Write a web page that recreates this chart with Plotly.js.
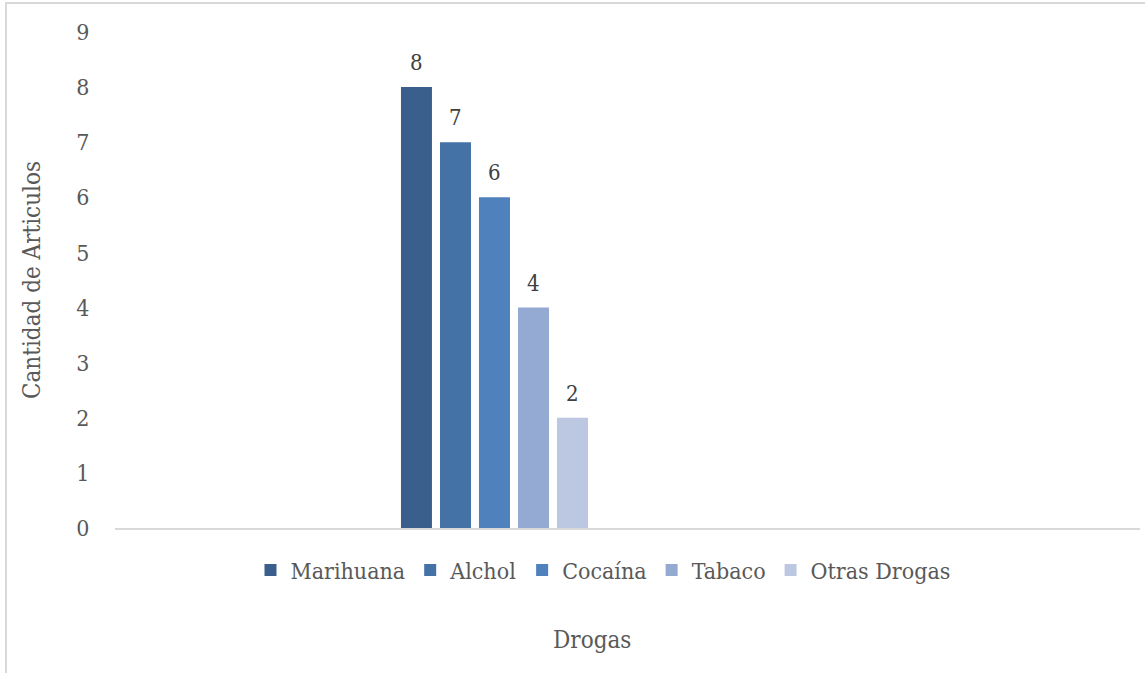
<!DOCTYPE html>
<html>
<head>
<meta charset="utf-8">
<script src="https://cdn.plot.ly/plotly-3.0.1.min.js"></script>
<style>
  html, body { margin: 0; padding: 0; overflow: hidden; background: #fff; }
  #frame { position: absolute; left: 5px; top: 2px; width: 3000px; height: 3000px;
           border: 2px solid #d9d9d9; box-sizing: border-box; }
  #chart { position: absolute; left: 0; top: 0; width: 1145px; height: 673px; }
</style>
</head>
<body>
<div id="frame"></div>
<div id="chart"></div>
<script>
const categories = ['Drogas'];
const seriesNames = ['Marihuana', 'Alchol', 'Cocaína', 'Tabaco', 'Otras Drogas'];
const seriesValues = [8, 7, 6, 4, 2];
const seriesColors = ['#3b5f8d', '#4472a7', '#4f81bd', '#95aad2', '#bcc8e1'];
const yTicks = [0, 1, 2, 3, 4, 5, 6, 7, 8, 9];

const FONT = '"DejaVu Serif Condensed", "Liberation Serif", serif';
const bargap = 0.5;

const traces = seriesNames.map((name, i) => ({
  type: 'bar',
  name: name,
  x: categories,
  y: [seriesValues[i]],
  marker: { color: seriesColors[i] },
  hoverinfo: 'name+y'
}));

const slot = (1 - bargap) / seriesNames.length;
const annotations = seriesNames.map((name, i) => ({
  xref: 'x', yref: 'y',
  x: 0 + (i - (seriesNames.length - 1) / 2) * slot,
  y: seriesValues[i],
  text: String(seriesValues[i]),
  showarrow: false,
  yanchor: 'bottom',
  yshift: 10,
  font: { family: FONT, size: 22, color: '#404040' }
}));
annotations.push({
  xref: 'paper', yref: 'paper',
  x: (592 - 115) / 1025, y: -0.225,
  xanchor: 'center', yanchor: 'middle',
  text: 'Drogas', showarrow: false,
  font: { family: FONT, size: 24, color: '#595959' }
});

const layout = {
  width: 1145, height: 673,
  margin: { l: 115, r: 5, t: 32, b: 145, pad: 0 },
  paper_bgcolor: 'rgba(0,0,0,0)',
  plot_bgcolor: 'rgba(0,0,0,0)',
  barmode: 'group',
  bargap: bargap,
  bargroupgap: 0.205,
  showlegend: true,
  legend: {
    orientation: 'h',
    x: (603 - 115) / 1025, xanchor: 'center',
    y: -0.085, yanchor: 'middle',
    font: { family: FONT, size: 23, color: '#595959' },
    itemwidth: 30,
    traceorder: 'normal'
  },
  xaxis: {
    type: 'category',
    range: [-0.973, -0.973 + 1025 / 390],
    showticklabels: false,
    ticks: '',
    showgrid: false,
    zeroline: false,
    showline: true,
    linecolor: '#d9d9d9',
    linewidth: 1.5,
    fixedrange: true
  },
  yaxis: {
    range: [0, 9],
    tickvals: yTicks,
    ticktext: yTicks.map(String),
    showgrid: false,
    zeroline: false,
    showline: false,
    ticks: 'outside',
    ticklen: 20,
    tickcolor: 'rgba(0,0,0,0)',
    tickfont: { family: FONT, size: 23, color: '#595959' },
    title: {
      text: 'Cantidad de Articulos',
      font: { family: FONT, size: 24, color: '#595959' },
      standoff: 28
    },
    fixedrange: true
  },
  annotations: annotations
};

Plotly.newPlot('chart', traces, layout, { displayModeBar: false, staticPlot: true });
</script>
</body>
</html>
